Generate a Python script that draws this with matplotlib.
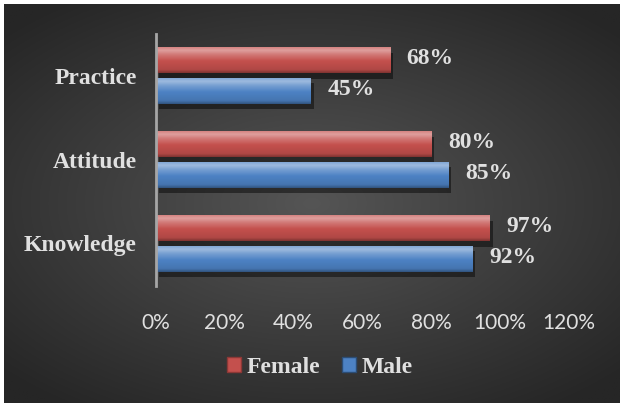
import numpy as np
import matplotlib
matplotlib.use('Agg')
import matplotlib.pyplot as plt
import matplotlib.patheffects as pe
from matplotlib.colors import LinearSegmentedColormap, to_rgb
from matplotlib.patches import Patch

plt.rcParams['font.family'] = 'serif'
plt.rcParams['font.serif'] = ['Liberation Serif', 'DejaVu Serif']

# Datos del gráfico
categorias = ['Knowledge', 'Attitude', 'Practice']
female = [97, 80, 68]
male = [92, 85, 45]
ticks_x = [0, 20, 40, 60, 80, 100, 120]

texto_claro = '#e0e0e0'
rojo = '#c4504d'
azul = '#4d82c4'

fig = plt.figure(figsize=(6.2, 4.07), dpi=100, facecolor='white')

# Fondo con degradado radial
ax_fondo = fig.add_axes([4/620, 4/407, 616/620, 399/407])
yy, xx = np.mgrid[-1:1:300j, -1:1:460j]
r = np.clip(np.sqrt((xx*0.9)**2 + (yy*1.0)**2) / 1.25, 0, 1)
c0 = np.array(to_rgb('#555555'))
c1 = np.array(to_rgb('#262626'))
fondo = c0[None, None, :]*(1-r[..., None]) + c1[None, None, :]*r[..., None]
ax_fondo.imshow(fondo, aspect='auto', extent=[0, 1, 0, 1])
ax_fondo.axis('off')

ax = fig.add_axes([156/620, 1-285.5/407, 413/620, 252/407])
ax.set_facecolor('none')

y = np.arange(len(categorias))
alto = 0.31
desp = 0.18


def degradado(color):
    base = np.array(to_rgb(color))
    claro = base + (1 - base)*0.45
    oscuro = base*0.65
    paradas = [(0.0, base + (1-base)*0.25), (0.15, claro), (0.32, claro*0.5 + base*0.5),
               (0.55, base), (0.88, base*0.9), (1.0, oscuro)]
    return LinearSegmentedColormap.from_list('g', [(p, np.clip(c, 0, 1)) for p, c in paradas])


sombra = [pe.SimplePatchShadow(offset=(2, -4), shadow_rgbFace='black', alpha=0.45), pe.Normal()]

for valores, pos, color in [(female, y + desp, rojo), (male, y - desp, azul)]:
    barras = ax.barh(pos, valores, height=alto, color=color, edgecolor='none',
                     path_effects=sombra, zorder=2)
    cmap = degradado(color)
    grad = np.linspace(0, 1, 64)[:, None]
    for b in barras:
        x0, y0 = b.get_x(), b.get_y()
        im = ax.imshow(grad, cmap=cmap, aspect='auto', zorder=3,
                       extent=[x0, x0 + b.get_width(), y0, y0 + b.get_height()])
        im.set_clip_path(b)
    for v, p in zip(valores, pos):
        ax.annotate(f'{v}%', xy=(v, p), xytext=(12, 1), textcoords='offset points',
                    ha='left', va='center', color=texto_claro, fontsize=17,
                    fontweight='bold')

ax.set_xlim(0, 120)
ax.set_ylim(-0.5, 2.5)
ax.set_xticks(ticks_x)
ax.set_xticklabels([f'{t}%' for t in ticks_x], color=texto_claro, fontsize=15,
                   fontfamily='Lato')
ax.set_yticks(y)
ax.set_yticklabels(categorias, color=texto_claro, fontsize=17, fontweight='bold')
ax.tick_params(axis='both', length=0)
ax.tick_params(axis='x', pad=20)
ax.tick_params(axis='y', pad=14)
for lado in ['top', 'right', 'bottom']:
    ax.spines[lado].set_visible(False)
ax.spines['left'].set_color('#a6a6a6')
ax.spines['left'].set_linewidth(2)
ax.spines['left'].set_zorder(5)

manejadores = [Patch(facecolor=rojo, edgecolor='#8c3836', label='Female'),
               Patch(facecolor=azul, edgecolor='#2c4d75', label='Male')]
fig.legend(handles=manejadores, loc='center', bbox_to_anchor=(0.516, 0.098), ncol=2,
           frameon=False, handlelength=0.6, handleheight=0.6, handletextpad=0.25,
           columnspacing=0.9, prop={'weight': 'bold', 'size': 17},
           labelcolor=texto_claro)

fig.savefig('out.png', dpi=100, facecolor='white')
